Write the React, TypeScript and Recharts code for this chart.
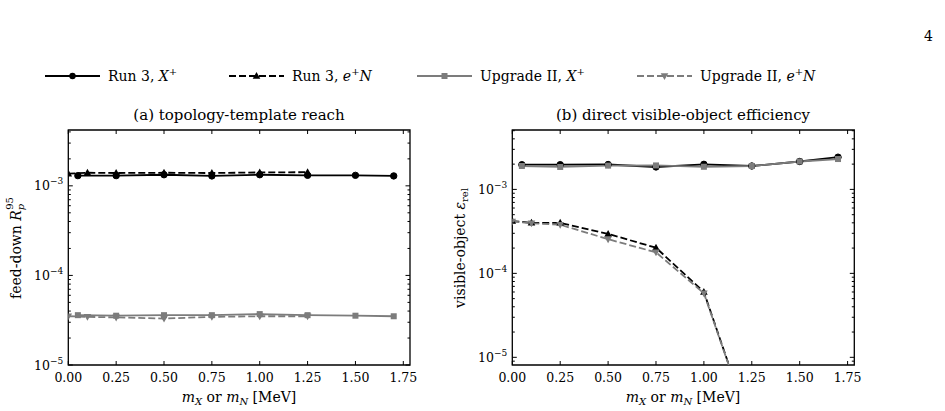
import React from 'react';
import { LineChart, Line, XAxis, YAxis, ReferenceArea } from 'recharts';

// masses [MeV]
const massX = [0.05, 0.25, 0.5, 0.75, 1.0, 1.25, 1.5, 1.7];
const massN = [0.0, 0.1, 0.25, 0.5, 0.75, 1.0, 1.25];

// (a) feed-down reach R_p^95
const reachRun3X = [1.30e-3, 1.30e-3, 1.33e-3, 1.29e-3, 1.33e-3, 1.31e-3, 1.31e-3, 1.29e-3];
const reachRun3N = [1.37e-3, 1.40e-3, 1.39e-3, 1.40e-3, 1.39e-3, 1.41e-3, 1.42e-3];
const reachUpgX = [3.6e-5, 3.55e-5, 3.6e-5, 3.6e-5, 3.7e-5, 3.6e-5, 3.55e-5, 3.5e-5];
const reachUpgN = [3.5e-5, 3.45e-5, 3.4e-5, 3.3e-5, 3.45e-5, 3.5e-5, 3.5e-5];

// (b) visible-object efficiency
const effRun3X = [1.97e-3, 1.97e-3, 1.98e-3, 1.85e-3, 1.99e-3, 1.90e-3, 2.15e-3, 2.42e-3];
const effRun3N = [4.2e-4, 4.0e-4, 4.0e-4, 2.95e-4, 2.02e-4, 6.0e-5, 1.3e-6];
const effUpgX = [1.90e-3, 1.85e-3, 1.92e-3, 1.93e-3, 1.86e-3, 1.90e-3, 2.15e-3, 2.30e-3];
const effUpgN = [4.15e-4, 3.95e-4, 3.8e-4, 2.55e-4, 1.78e-4, 5.8e-5, 1.3e-6];

const massTicks = [0, 0.25, 0.5, 0.75, 1.0, 1.25, 1.5, 1.75];
const massDomain = [0, 1.785];
const reachDomain = [1e-5, 4.2e-3];
const effDomain = [8.1e-6, 5.1e-3];

const serif = '"DejaVu Serif", "Liberation Serif", serif';
const BLACK = '#000000';
const GRAY = '#7c7c7c';

const rows = (xs: number[], ys: number[]) => xs.map((m, i) => ({ m, v: ys[i] }));

// 1..9 x 10^k inside the domain, for major + minor log ticks
function logTicks([lo, hi]: number[]) {
  const out: number[] = [];
  for (let e = Math.floor(Math.log10(lo)); e <= Math.ceil(Math.log10(hi)); e++) {
    for (let k = 1; k < 10; k++) {
      const v = k * Math.pow(10, e);
      if (v >= lo * 0.9999 && v <= hi * 1.0001) out.push(v);
    }
  }
  return out;
}

type Box = { left: number; right: number; top: number; bottom: number };

const makeXTick = (box: Box) => (props: any) => {
  const { x, payload } = props;
  return (
    <g key={`xt-${payload.value}`}>
      <line x1={x} x2={x} y1={box.bottom} y2={box.bottom - 4} stroke={BLACK} strokeWidth={1} />
      <line x1={x} x2={x} y1={box.top} y2={box.top + 4} stroke={BLACK} strokeWidth={1} />
      <text x={x} y={box.bottom + 17} textAnchor="middle" fontSize={12.5} fontFamily={serif} fill={BLACK}>
        {Number(payload.value).toFixed(2)}
      </text>
    </g>
  );
};

const makeYTick = (box: Box) => (props: any) => {
  const { y, payload } = props;
  const v = payload.value as number;
  const exp = Math.floor(Math.log10(v) + 1e-9);
  const mant = v / Math.pow(10, exp);
  const major = Math.abs(mant - 1) < 1e-6;
  const len = major ? 4.5 : 2.5;
  return (
    <g key={`yt-${v}`}>
      <line x1={box.left} x2={box.left + len} y1={y} y2={y} stroke={BLACK} strokeWidth={1} />
      <line x1={box.right - len} x2={box.right} y1={y} y2={y} stroke={BLACK} strokeWidth={1} />
      {major && (
        <text x={box.left - 5} y={y + 4.5} textAnchor="end" fontSize={12.5} fontFamily={serif} fill={BLACK}>
          10<tspan dy={-6} fontSize={9}>{'\u2212' + String(-exp)}</tspan>
        </text>
      )}
    </g>
  );
};

// marker shapes
const circleDot = (color: string) => (p: any) =>
  p.cx == null ? <g key={p.index} /> : <circle key={p.index} cx={p.cx} cy={p.cy} r={3.2} fill={color} stroke={color} />;
const squareDot = (color: string) => (p: any) =>
  p.cx == null ? <g key={p.index} /> : <rect key={p.index} x={p.cx - 3} y={p.cy - 3} width={6} height={6} fill={color} />;
const triUpDot = (color: string) => (p: any) =>
  p.cx == null ? <g key={p.index} /> : (
    <polygon key={p.index} points={`${p.cx},${p.cy - 4} ${p.cx - 3.8},${p.cy + 2.8} ${p.cx + 3.8},${p.cy + 2.8}`} fill={color} />
  );
const triDownDot = (color: string) => (p: any) =>
  p.cx == null ? <g key={p.index} /> : (
    <polygon key={p.index} points={`${p.cx},${p.cy + 4} ${p.cx - 3.8},${p.cy - 2.8} ${p.cx + 3.8},${p.cy - 2.8}`} fill={color} />
  );

type PanelProps = {
  left: number;
  width: number;
  box: Box;
  yAxisWidth: number;
  yDomain: number[];
  run3X: number[];
  run3N: number[];
  upgX: number[];
  upgN: number[];
};

function Panel({ left, width, box, yAxisWidth, yDomain, run3X, run3N, upgX, upgN }: PanelProps) {
  const H = 411;
  const xAxisHeight = 40;
  const series = [
    { key: 'r3x', data: rows(massX, run3X), color: BLACK, dash: undefined, dot: circleDot(BLACK) },
    { key: 'r3n', data: rows(massN, run3N), color: BLACK, dash: '7 3', dot: triUpDot(BLACK) },
    { key: 'u2x', data: rows(massX, upgX), color: GRAY, dash: undefined, dot: squareDot(GRAY) },
    { key: 'u2n', data: rows(massN, upgN), color: GRAY, dash: '7 3', dot: triDownDot(GRAY) },
  ];
  return (
    <div style={{ position: 'absolute', left, top: 0 }}>
      <LineChart
        width={width}
        height={H}
        margin={{
          top: box.top,
          left: box.left - yAxisWidth,
          right: width - box.right,
          bottom: H - box.bottom - xAxisHeight,
        }}
      >
        <XAxis
          type="number"
          dataKey="m"
          domain={massDomain}
          ticks={massTicks}
          interval={0}
          allowDataOverflow
          tickLine={false}
          axisLine={false}
          height={xAxisHeight}
          tick={makeXTick(box)}
        />
        <YAxis
          type="number"
          scale="log"
          domain={yDomain}
          ticks={logTicks(yDomain)}
          interval={0}
          allowDataOverflow
          tickLine={false}
          axisLine={false}
          width={yAxisWidth}
          tick={makeYTick(box)}
        />
        {series.map((s) => (
          <Line
            key={s.key}
            data={s.data}
            dataKey="v"
            type="linear"
            stroke={s.color}
            strokeWidth={1.8}
            strokeDasharray={s.dash}
            dot={s.dot}
            activeDot={false}
            isAnimationActive={false}
          />
        ))}
        <ReferenceArea
          x1={massDomain[0]}
          x2={massDomain[1]}
          y1={yDomain[0]}
          y2={yDomain[1]}
          fill="none"
          fillOpacity={0}
          stroke={BLACK}
          strokeWidth={1.3}
          ifOverflow="visible"
        />
      </LineChart>
    </div>
  );
}

const legendItems = [
  { x: 45, color: BLACK, dash: undefined, marker: 'circle', label: ['Run 3, ', 'X', '+', ''] },
  { x: 229, color: BLACK, dash: '7 3', marker: 'up', label: ['Run 3, ', 'e', '+', 'N'] },
  { x: 417, color: GRAY, dash: undefined, marker: 'square', label: ['Upgrade II, ', 'X', '+', ''] },
  { x: 637, color: GRAY, dash: '7 3', marker: 'down', label: ['Upgrade II, ', 'e', '+', 'N'] },
];

function LegendMarker({ kind, cx, cy, color }: { kind: string; cx: number; cy: number; color: string }) {
  if (kind === 'circle') return <circle cx={cx} cy={cy} r={3.2} fill={color} />;
  if (kind === 'square') return <rect x={cx - 3} y={cy - 3} width={6} height={6} fill={color} />;
  if (kind === 'up')
    return <polygon points={`${cx},${cy - 4} ${cx - 3.8},${cy + 2.8} ${cx + 3.8},${cy + 2.8}`} fill={color} />;
  return <polygon points={`${cx},${cy + 4} ${cx - 3.8},${cy - 2.8} ${cx + 3.8},${cy - 2.8}`} fill={color} />;
}

function Annotations() {
  const ly = 76;
  return (
    <svg width={945} height={411} style={{ position: 'absolute', left: 0, top: 0, pointerEvents: 'none' }}>
      <text x={933} y={41} textAnchor="end" fontSize={14} fontFamily={serif}>4</text>

      {legendItems.map((it) => (
        <g key={it.x}>
          <line x1={it.x} x2={it.x + 55} y1={ly} y2={ly} stroke={it.color} strokeWidth={1.8} strokeDasharray={it.dash} />
          <LegendMarker kind={it.marker} cx={it.x + 27.5} cy={ly} color={it.color} />
          <text x={it.x + 63} y={ly + 5} fontSize={14} fontFamily={serif} fill="#000">
            {it.label[0]}
            <tspan fontStyle="italic">{it.label[1]}</tspan>
            <tspan dy={-6} fontSize={10}>{it.label[2]}</tspan>
            <tspan dy={6} fontStyle="italic">{it.label[3]}</tspan>
          </text>
        </g>
      ))}

      <text x={239} y={120} textAnchor="middle" fontSize={15} fontFamily={serif}>(a) topology-template reach</text>
      <text x={683} y={120} textAnchor="middle" fontSize={15} fontFamily={serif}>(b) direct visible-object efficiency</text>

      {[239, 683].map((cx) => (
        <text key={cx} x={cx} y={402} textAnchor="middle" fontSize={14} fontFamily={serif}>
          <tspan fontStyle="italic">m</tspan>
          <tspan dy={3} fontSize={10} fontStyle="italic">X</tspan>
          <tspan dy={-3}> or </tspan>
          <tspan fontStyle="italic">m</tspan>
          <tspan dy={3} fontSize={10} fontStyle="italic">N</tspan>
          <tspan dy={-3}> [MeV]</tspan>
        </text>
      ))}

      <text x={0} y={0} transform="translate(21,248) rotate(-90)" textAnchor="middle" fontSize={14} fontFamily={serif}>
        feed-down <tspan fontStyle="italic">R</tspan>
        <tspan dy={3} fontSize={10} fontStyle="italic">p</tspan>
        <tspan dx={-6} dy={-11} fontSize={10}>95</tspan>
      </text>
      <text x={0} y={0} transform="translate(465,248) rotate(-90)" textAnchor="middle" fontSize={14} fontFamily={serif}>
        visible-object <tspan fontStyle="italic">ε</tspan>
        <tspan dy={3} fontSize={10}>rel</tspan>
      </text>
    </svg>
  );
}

export default function App() {
  return (
    <div style={{ position: 'absolute', left: 0, top: 0, width: 945, height: 411, background: '#fff' }}>
      <Panel
        left={0}
        width={470}
        box={{ left: 68.3, right: 410, top: 130, bottom: 365 }}
        yAxisWidth={60}
        yDomain={reachDomain}
        run3X={reachRun3X}
        run3N={reachRun3N}
        upgX={reachUpgX}
        upgN={reachUpgN}
      />
      <Panel
        left={470}
        width={475}
        box={{ left: 42.3, right: 384.3, top: 130, bottom: 365 }}
        yAxisWidth={40}
        yDomain={effDomain}
        run3X={effRun3X}
        run3N={effRun3N}
        upgX={effUpgX}
        upgN={effUpgN}
      />
      <Annotations />
    </div>
  );
}
